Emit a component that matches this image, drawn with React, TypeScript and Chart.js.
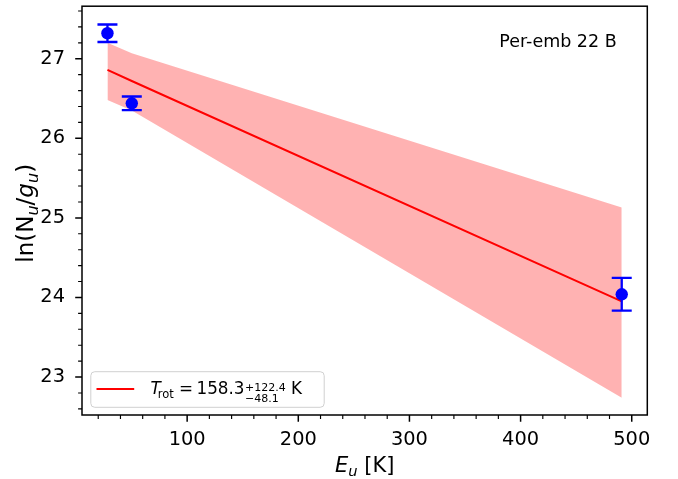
import React, { useEffect, useRef } from "react";
import { Chart, registerables } from "chart.js";

Chart.register(...registerables);

// ---- data ----
const energies = [28.3, 50.2, 491.0]; // E_u [K]
const lnN = [27.32, 26.44, 24.04]; // ln(N_u/g_u)
const lnNErr = [0.11, 0.085, 0.205];
const fitLine = [26.86, 26.72, 23.95];
const bandUpper = [27.2, 27.07, 25.13];
const bandLower = [26.48, 26.35, 22.74];
const xTicks = [100, 200, 300, 400, 500];
const yTicks = [23, 24, 25, 26, 27];
const xRange = [5.4, 514];
const yRange = [22.523, 27.66];
const xMinorStep = 20;
const yMinorStep = 0.2;
const sourceName = "Per-emb 22 B";
const tRotValue = "158.3";
const tRotPlus = "+122.4";
const tRotMinus = "\u221248.1";

const FAM = '"DejaVu Sans", sans-serif';
const fnt = (size: number, italic?: boolean) => `${italic ? "italic " : ""}${size}px ${FAM}`;

type Run = { t: string; size: number; italic?: boolean; dy?: number; dx?: number; stack?: boolean };

function runsWidth(ctx: CanvasRenderingContext2D, runs: Run[]) {
  let total = 0;
  let pending = 0;
  for (const r of runs) {
    ctx.font = fnt(r.size, r.italic);
    const w = ctx.measureText(r.t).width;
    total += r.dx || 0;
    if (r.stack) {
      pending = Math.max(pending, w);
    } else {
      total += Math.max(pending, w);
      pending = 0;
    }
  }
  return total + pending;
}

function drawRuns(ctx: CanvasRenderingContext2D, runs: Run[], x: number, y: number, align: "left" | "center") {
  let cx = align === "center" ? x - runsWidth(ctx, runs) / 2 : x;
  let pending = 0;
  ctx.textAlign = "left";
  ctx.textBaseline = "alphabetic";
  for (const r of runs) {
    ctx.font = fnt(r.size, r.italic);
    const w = ctx.measureText(r.t).width;
    cx += r.dx || 0;
    ctx.fillText(r.t, cx, y + (r.dy || 0));
    if (r.stack) {
      pending = Math.max(pending, w);
    } else {
      cx += Math.max(pending, w);
      pending = 0;
    }
  }
}

const decorPlugin = {
  id: "decor",
  afterDatasetDraw(chart: any, args: any) {
    if (args.index !== 2) return;
    // error bars (drawn under the markers)
    const ctx = chart.ctx as CanvasRenderingContext2D;
    const xs = chart.scales.x;
    const ys = chart.scales.y;
    ctx.save();
    ctx.strokeStyle = "#0000ff";
    ctx.lineWidth = 2.3;
    energies.forEach((e, i) => {
      const px = xs.getPixelForValue(e);
      const top = ys.getPixelForValue(lnN[i] + lnNErr[i]);
      const bot = ys.getPixelForValue(lnN[i] - lnNErr[i]);
      ctx.beginPath();
      ctx.moveTo(px, top);
      ctx.lineTo(px, bot);
      ctx.moveTo(px - 10, top);
      ctx.lineTo(px + 10, top);
      ctx.moveTo(px - 10, bot);
      ctx.lineTo(px + 10, bot);
      ctx.stroke();
    });
    ctx.restore();
  },
  afterDatasetsDraw(chart: any) {
    const ctx = chart.ctx as CanvasRenderingContext2D;
    const { left, right, top, bottom } = chart.chartArea;
    const xs = chart.scales.x;
    const ys = chart.scales.y;
    ctx.save();
    ctx.fillStyle = "#000";
    ctx.strokeStyle = "#000";

    // ticks
    const majorLen = 6.8;
    const minorLen = 3.9;
    ctx.lineWidth = 1.5;
    ctx.beginPath();
    xTicks.forEach((v) => {
      const p = xs.getPixelForValue(v);
      ctx.moveTo(p, bottom);
      ctx.lineTo(p, bottom + majorLen);
    });
    yTicks.forEach((v) => {
      const p = ys.getPixelForValue(v);
      ctx.moveTo(left, p);
      ctx.lineTo(left - majorLen, p);
    });
    ctx.stroke();
    ctx.lineWidth = 1.15;
    ctx.beginPath();
    for (let v = Math.ceil(xRange[0] / xMinorStep) * xMinorStep; v <= xRange[1]; v += xMinorStep) {
      if (xTicks.includes(v)) continue;
      const p = xs.getPixelForValue(v);
      ctx.moveTo(p, bottom);
      ctx.lineTo(p, bottom + minorLen);
    }
    for (let k = Math.ceil(yRange[0] / yMinorStep); k * yMinorStep <= yRange[1]; k++) {
      const v = k * yMinorStep;
      if (yTicks.some((t) => Math.abs(t - v) < 1e-6)) continue;
      const p = ys.getPixelForValue(v);
      ctx.moveTo(left, p);
      ctx.lineTo(left - minorLen, p);
    }
    ctx.stroke();

    // frame
    ctx.lineWidth = 1.5;
    ctx.strokeRect(left, top, right - left, bottom - top);

    // source name
    ctx.font = fnt(17.5);
    ctx.textAlign = "right";
    ctx.textBaseline = "alphabetic";
    ctx.fillText(sourceName, right - 30.6, top + 40.3);

    // legend
    const bx = left + 8.8;
    const by = bottom - 43.3;
    const bw = 233.4;
    const bh = 35.6;
    const r = 4;
    ctx.beginPath();
    ctx.moveTo(bx + r, by);
    ctx.lineTo(bx + bw - r, by);
    ctx.quadraticCurveTo(bx + bw, by, bx + bw, by + r);
    ctx.lineTo(bx + bw, by + bh - r);
    ctx.quadraticCurveTo(bx + bw, by + bh, bx + bw - r, by + bh);
    ctx.lineTo(bx + r, by + bh);
    ctx.quadraticCurveTo(bx, by + bh, bx, by + bh - r);
    ctx.lineTo(bx, by + r);
    ctx.quadraticCurveTo(bx, by, bx + r, by);
    ctx.closePath();
    ctx.fillStyle = "rgba(255,255,255,0.8)";
    ctx.fill();
    ctx.strokeStyle = "#d0d0d0";
    ctx.lineWidth = 1;
    ctx.stroke();

    ctx.strokeStyle = "#ff0000";
    ctx.lineWidth = 2;
    ctx.beginPath();
    ctx.moveTo(left + 14.5, bottom - 26);
    ctx.lineTo(left + 52.2, bottom - 26);
    ctx.stroke();

    ctx.fillStyle = "#000";
    drawRuns(
      ctx,
      [
        { t: "T", size: 16.8, italic: true },
        { t: "rot", size: 11.5, dy: 4, dx: -3 },
        { t: " = ", size: 16.8 },
        { t: tRotValue, size: 16.8, dx: -2 },
        { t: tRotPlus, size: 11, dy: -3, dx: 0.5, stack: true },
        { t: tRotMinus, size: 11, dy: 8 },
        { t: " K", size: 16.8 },
      ],
      left + 68.5,
      bottom - 20.7,
      "left"
    );

    // axis titles
    drawRuns(
      ctx,
      [
        { t: "E", size: 21, italic: true },
        { t: "u", size: 14.7, italic: true, dy: 4 },
        { t: " [K]", size: 21 },
      ],
      (left + right) / 2,
      472.3,
      "center"
    );
    ctx.save();
    ctx.translate(33.3, (top + bottom) / 2 + 2.7);
    ctx.rotate(-Math.PI / 2);
    drawRuns(
      ctx,
      [
        { t: "ln(N", size: 23 },
        { t: "u", size: 16.1, italic: true, dy: 5 },
        { t: "/", size: 23 },
        { t: "g", size: 23, italic: true },
        { t: "u", size: 16.1, italic: true, dy: 5 },
        { t: ")", size: 23 },
      ],
      0,
      0,
      "center"
    );
    ctx.restore();
    ctx.restore();
  },
};

export default function App() {
  const ref = useRef<HTMLCanvasElement>(null);
  useEffect(() => {
    document.body.style.margin = "0";
    const canvas = ref.current!;
    const pts = (ys: number[]) => energies.map((x, i) => ({ x, y: ys[i] }));
    const tickFont = { family: FAM, size: 19.4 };
    const chart = new Chart(canvas, {
      type: "line",
      data: {
        datasets: [
          {
            label: "upper",
            data: pts(bandUpper),
            borderWidth: 0,
            borderColor: "rgba(0,0,0,0)",
            pointRadius: 0,
            fill: "+1",
            backgroundColor: "rgba(255,0,0,0.3)",
            order: 5,
          },
          {
            label: "lower",
            data: pts(bandLower),
            borderWidth: 0,
            borderColor: "rgba(0,0,0,0)",
            pointRadius: 0,
            fill: false,
            order: 4,
          },
          {
            label: "fit",
            data: pts(fitLine),
            borderColor: "#ff0000",
            borderWidth: 2,
            pointRadius: 0,
            fill: false,
            order: 3,
          },
          {
            type: "scatter",
            label: "obs",
            data: pts(lnN),
            pointRadius: 6.2,
            pointBackgroundColor: "#0000ff",
            backgroundColor: "#0000ff",
            borderWidth: 0,
            order: 1,
          } as any,
        ],
      },
      options: {
        animation: false,
        responsive: false,
        layout: { padding: { top: 3, right: 30.7, left: 0, bottom: 0 } },
        plugins: { legend: { display: false }, tooltip: { enabled: false } },
        scales: {
          x: {
            type: "linear",
            min: xRange[0],
            max: xRange[1],
            afterFit: (s: any) => {
              s.height = 64;
              s.paddingLeft = 0;
              s.paddingRight = 0;
            },
            afterBuildTicks: (s: any) => {
              s.ticks = xTicks.map((v) => ({ value: v }));
            },
            grid: { display: false, drawTicks: false },
            border: { display: false },
            ticks: {
              padding: 13,
              font: tickFont,
              color: "#000",
              maxRotation: 0,
              autoSkip: false,
              callback: (v: any) => String(v),
            },
          },
          y: {
            type: "linear",
            min: yRange[0],
            max: yRange[1],
            afterFit: (s: any) => {
              s.width = 82;
              s.paddingTop = 0;
              s.paddingBottom = 0;
            },
            afterBuildTicks: (s: any) => {
              s.ticks = yTicks.map((v) => ({ value: v }));
            },
            grid: { display: false, drawTicks: false },
            border: { display: false },
            ticks: {
              padding: 17,
              font: tickFont,
              color: "#000",
              autoSkip: false,
              callback: (v: any) => String(v),
            },
          },
        },
      },
      plugins: [decorPlugin],
    });
    return () => chart.destroy();
  }, []);
  return <canvas ref={ref} width={678} height={479} style={{ display: "block" }} />;
}
